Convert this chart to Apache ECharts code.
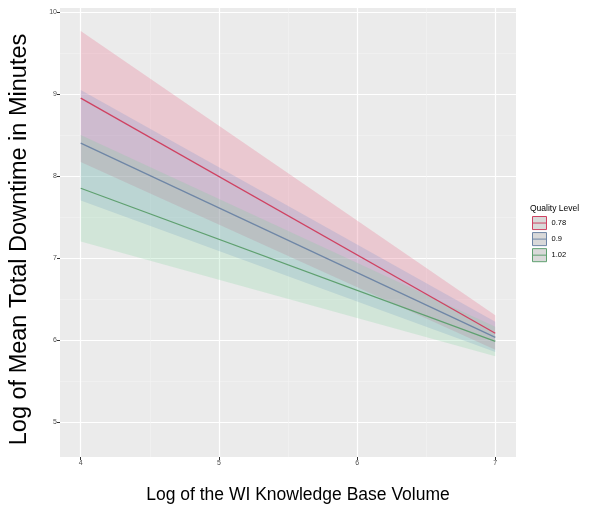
<!DOCTYPE html>
<html>
    <head>
        <meta charset="utf-8">
        <script src="https://cdn.jsdelivr.net/npm/echarts@6/dist/echarts.min.js"></script>
    </head>
    <body>
        <style>
            html, body, #main {
                width: 595px;
                height: 510px;
                margin: 0;
                background: #fff;
            }
        </style>
        <div id="main"></div>
        <script>

            // x positions of the fitted lines (log KB volume)
            var xValues = [4, 7];

            // fitted values per quality level, at x = 4 and x = 7
            var levels = ['0.78', '0.9', '1.02'];
            var fit078 = [8.95, 6.08];
            var fit090 = [8.40, 6.03];
            var fit102 = [7.85, 5.98];

            // confidence band bounds
            var low078 = [8.17, 5.88];
            var high078 = [9.77, 6.30];
            var low090 = [7.70, 5.85];
            var high090 = [9.05, 6.22];
            var low102 = [7.20, 5.80];
            var high102 = [8.50, 6.16];

            var xTicks = [4, 5, 6, 7];
            var yTicks = [5, 6, 7, 8, 9, 10];

            var lineColors = ['#cf4262', '#6f86a6', '#5fa070'];
            var bandColors = ['rgba(235,130,155,0.33)', 'rgba(110,140,205,0.22)', 'rgba(120,210,150,0.22)'];

            var fits = [fit078, fit090, fit102];
            var lows = [low078, low090, low102];
            var highs = [high078, high090, high102];

            function pairs(ys) {
                return xValues.map(function (x, i) { return [x, ys[i]]; });
            }

            var series = [];
            // ribbons drawn as one polygon per level
            levels.forEach(function (name, k) {
                series.push({
                    name: 'band' + name,
                    type: 'custom',
                    silent: true,
                    data: xValues.map(function (x, i) { return [x, lows[k][i], highs[k][i]]; }),
                    encode: { x: 0, y: [1, 2] },
                    renderItem: function (params, api) {
                        if (params.dataIndex !== 0) return;
                        var pts = [];
                        xValues.forEach(function (x, i) { pts.push(api.coord([x, highs[k][i]])); });
                        for (var i = xValues.length - 1; i >= 0; i--) {
                            pts.push(api.coord([xValues[i], lows[k][i]]));
                        }
                        return {
                            type: 'polygon',
                            shape: { points: pts },
                            style: { fill: bandColors[k] }
                        };
                    }
                });
            });
            levels.forEach(function (name, k) {
                series.push({
                    name: name,
                    type: 'line',
                    symbol: 'none',
                    color: lineColors[k],
                    lineStyle: { width: 1.3, color: lineColors[k] },
                    data: pairs(fits[k])
                });
            });

            var chart = echarts.init(document.getElementById('main'));

            function makeAxis(ticks) {
                return {
                    type: 'value',
                    splitNumber: 4,
                    minInterval: 1,
                    maxInterval: 1,
                    axisLine: { show: false },
                    axisTick: { show: true, length: 3, lineStyle: { color: '#333' }, customValues: ticks },
                    axisLabel: {
                        color: '#4d4d4d',
                        fontSize: 7,
                        fontFamily: 'Liberation Sans',
                        margin: 3,
                        customValues: ticks
                    },
                    splitLine: { show: true, lineStyle: { color: '#fff', width: 1.2 } },
                    minorTick: { show: false, splitNumber: 2 },
                    minorSplitLine: { show: true, lineStyle: { color: '#f4f4f4', width: 0.6 } }
                };
            }

            var xAxis = makeAxis(xTicks);
            xAxis.min = 3.85;
            xAxis.max = 7.15;
            xAxis.name = 'Log of the WI Knowledge Base Volume';
            xAxis.nameLocation = 'middle';
            xAxis.nameGap = 29;
            xAxis.nameTextStyle = { color: '#000', fontSize: 17.5, fontFamily: 'Liberation Sans', padding: [0, 0, 0, 20] };

            var yAxis = makeAxis(yTicks);
            yAxis.min = 4.57;
            yAxis.max = 10.05;
            yAxis.name = 'Log of Mean Total Downtime in Minutes';
            yAxis.nameLocation = 'middle';
            yAxis.nameGap = 28;
            yAxis.nameTextStyle = { color: '#000', fontSize: 23.5, fontFamily: 'Liberation Sans', padding: [0, 14, 0, 0] };

            var keyIcon = 'path://M0,0L15,0L15,14L0,14Z M0,7L15,7';

            chart.setOption({
                animation: false,
                title: {
                    text: 'Quality Level',
                    left: 530,
                    top: 204,
                    padding: 0,
                    textStyle: { color: '#000', fontSize: 8.5, fontWeight: 'normal', fontFamily: 'Liberation Sans' }
                },
                legend: {
                    orient: 'vertical',
                    left: 532,
                    top: 216,
                    padding: 0,
                    itemWidth: 14,
                    itemHeight: 14,
                    itemGap: 2,
                    textStyle: { color: '#000', fontSize: 7.5, fontFamily: 'Liberation Sans' },
                    data: levels.map(function (name, k) {
                        return {
                            name: name,
                            icon: keyIcon,
                            itemStyle: { color: '#d9d9d9', borderColor: lineColors[k], borderWidth: 1 }
                        };
                    })
                },
                grid: {
                    left: 60,
                    right: 79,
                    top: 8,
                    bottom: 53,
                    outerBoundsMode: 'none',
                    show: true,
                    backgroundColor: '#ebebeb',
                    borderWidth: 0
                },
                xAxis: xAxis,
                yAxis: yAxis,
                series: series
            });

        </script>
    </body>
</html>
